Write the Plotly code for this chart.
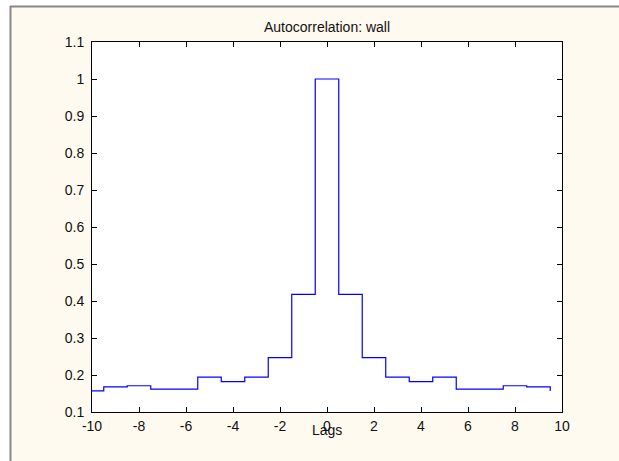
import plotly.graph_objects as go

# Data: autocorrelation values for lags -10..10
lags = list(range(-10, 11))
acf = [0.157, 0.168, 0.171, 0.162, 0.162, 0.194, 0.182, 0.194, 0.247, 0.418,
       1.0,
       0.418, 0.247, 0.194, 0.182, 0.194, 0.162, 0.162, 0.171, 0.168, 0.157]

x_tickvals = [-10, -8, -6, -4, -2, 0, 2, 4, 6, 8, 10]
x_ticktext = ["-10", "-8", "-6", "-4", "-2", "0", "2", "4", "6", "8", "10"]
y_tickvals = [0.1, 0.2, 0.3, 0.4, 0.5, 0.6, 0.7, 0.8, 0.9, 1.0, 1.1]
y_ticktext = ["0.1", "0.2", "0.3", "0.4", "0.5", "0.6", "0.7", "0.8", "0.9", "1", "1.1"]

title_text = "Autocorrelation: wall"
xlabel_text = "Lags"

# stairs: each value drawn from lag-0.5 to lag+0.5
stair_x = [l - 0.5 for l in lags]

W, H = 619, 461
L, R, T, B = 92, 562, 42, 412
pw, ph = R - L, B - T

def px_x(p):
    return (p - L) / pw

def px_y(p):
    return (B - p) / ph

cream = "#fffaf0"
font = dict(family="Arial, Liberation Sans, sans-serif", size=14, color="#111111")

fig = go.Figure()
fig.add_trace(go.Scatter(
    x=stair_x, y=acf, mode="lines", line=dict(color="#0000ff", width=1.2, shape="hv"),
    hoverinfo="skip", showlegend=False,
))

axis_common = dict(
    showgrid=False, zeroline=False, showline=True, linecolor="black", linewidth=1,
    mirror="allticks", ticks="inside", ticklen=5, tickcolor="black", tickwidth=1,
    tickfont=font,
)

fig.update_xaxes(range=[-10, 10], tickmode="array", tickvals=x_tickvals,
                 ticktext=x_ticktext, ticklabelstandoff=1, **axis_common)
fig.update_yaxes(range=[0.1, 1.1], tickmode="array", tickvals=y_tickvals,
                 ticktext=y_ticktext, ticklabelstandoff=4, **axis_common)

shapes = [
    # white strips outside the window frame (drawn as thick lines)
    dict(type="line", xref="paper", yref="paper", x0=px_x(0), x1=px_x(W), y0=px_y(3), y1=px_y(3),
         line=dict(color="white", width=6), layer="below"),
    dict(type="line", xref="paper", yref="paper", x0=px_x(5), x1=px_x(5), y0=px_y(H), y1=px_y(0),
         line=dict(color="white", width=10), layer="below"),
    # gray frame lines
    dict(type="line", xref="paper", yref="paper", x0=px_x(10), x1=px_x(W), y0=px_y(6.5), y1=px_y(6.5),
         line=dict(color="#888888", width=2), layer="below"),
    dict(type="line", xref="paper", yref="paper", x0=px_x(10.5), x1=px_x(10.5), y0=px_y(H), y1=px_y(6),
         line=dict(color="#888888", width=2), layer="below"),
]

annotations = [
    dict(text=title_text, xref="paper", yref="paper", x=0.5, y=1, xanchor="center",
         yanchor="middle", yshift=15, showarrow=False, font=font),
    dict(text=xlabel_text, xref="paper", yref="paper", x=0.5, y=0, xanchor="center",
         yanchor="middle", yshift=-18, showarrow=False, font=font),
]

fig.update_layout(
    width=W, height=H, margin=dict(l=L, r=W - R, t=T, b=H - B, pad=0),
    paper_bgcolor=cream, plot_bgcolor="white",
    shapes=shapes, annotations=annotations, font=font,
)

fig.write_html("out.html")
